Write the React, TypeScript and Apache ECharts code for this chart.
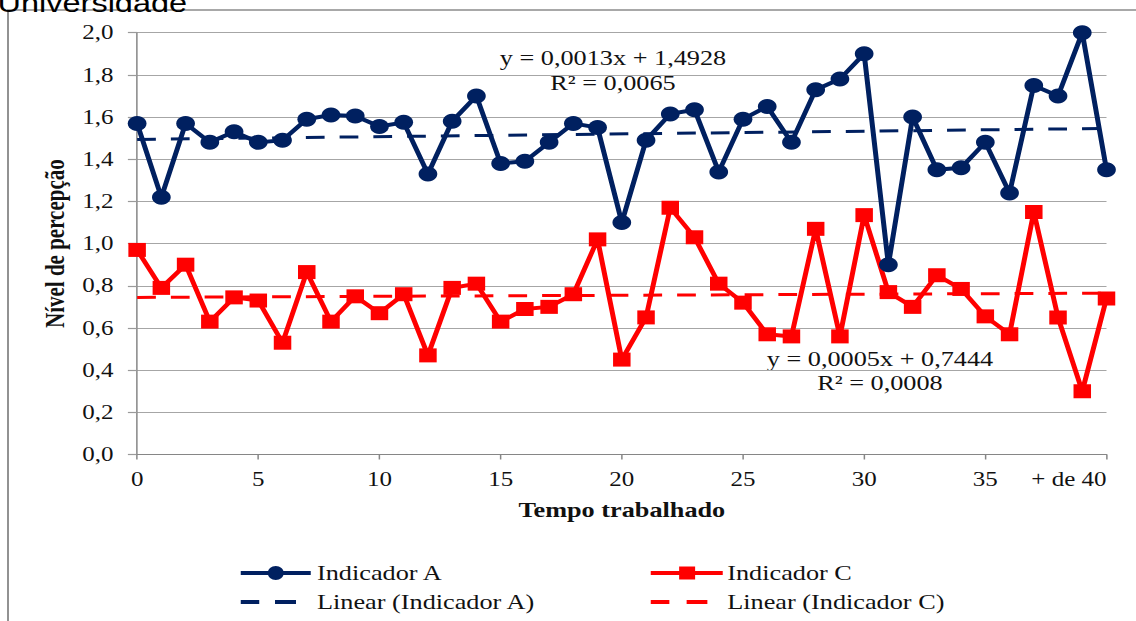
import React, { useEffect, useRef } from "react";
import * as echarts from "echarts";

// Data
const categories = [
  "0", "1", "2", "3", "4", "5", "6", "7", "8", "9",
  "10", "11", "12", "13", "14", "15", "16", "17", "18", "19",
  "20", "21", "22", "23", "24", "25", "26", "27", "28", "29",
  "30", "31", "32", "33", "34", "35", "36", "37", "38", "39", "+ de 40",
];
const indicadorA = [
  1.57, 1.22, 1.57, 1.48, 1.53, 1.48, 1.49, 1.59, 1.61, 1.605,
  1.555, 1.575, 1.33, 1.58, 1.7, 1.38, 1.39, 1.48, 1.57, 1.55,
  1.1, 1.49, 1.615, 1.635, 1.34, 1.59, 1.65, 1.48, 1.73, 1.78,
  1.9, 0.9, 1.6, 1.35, 1.36, 1.48, 1.24, 1.75, 1.7, 2.0, 1.35,
];
const indicadorC = [
  0.97, 0.79, 0.9, 0.63, 0.745, 0.73, 0.53, 0.865, 0.63, 0.75,
  0.67, 0.76, 0.47, 0.79, 0.81, 0.63, 0.69, 0.7, 0.76, 1.02,
  0.45, 0.65, 1.17, 1.03, 0.81, 0.72, 0.57, 0.56, 1.07, 0.56,
  1.135, 0.77, 0.7, 0.85, 0.785, 0.655, 0.57, 1.15, 0.65, 0.3, 0.74,
];
// Linear trend end values (first and last category)
const trendA = [1.494, 1.546];
const trendC = [0.745, 0.765];
const yTickLabels = ["0,0", "0,2", "0,4", "0,6", "0,8", "1,0", "1,2", "1,4", "1,6", "1,8", "2,0"];
const seriesNames = ["Indicador A", "Indicador C", "Linear (Indicador A)", "Linear (Indicador C)"];
const equationA = ["y = 0,0013x + 1,4928", "R² = 0,0065"];
const equationC = ["y = 0,0005x + 0,7444", "R² = 0,0008"];

const S = 1.25; // horizontal stretch of the original picture
const W = 1136 / S;
const H = 621;
const BLUE = "#002060";
const RED = "#ff0000";
const SERIF = "'Liberation Serif', 'Times New Roman', serif";
const TXT = "#111111";

function txt(x: number, y: number, text: string, size: number, align = "left", extra: any = {}) {
  return {
    type: "text",
    x,
    y,
    silent: true,
    style: {
      text,
      fill: TXT,
      fontFamily: SERIF,
      fontSize: size,
      align,
      verticalAlign: "middle",
      textAlign: align,
      textVerticalAlign: "middle",
      ...extra,
    },
  };
}

export default function App() {
  const ref = useRef<HTMLDivElement>(null);
  useEffect(() => {
    if (!ref.current) return;
    const chart = echarts.init(ref.current, null, { renderer: "svg" });
    const last = categories.length - 1;
    const option: any = {
      animation: false,
      backgroundColor: "#ffffff",
      grid: { left: 109.7, right: W - 885.0, top: 32.7, bottom: H - 454.5, containLabel: false },
      xAxis: {
        type: "category",
        data: categories,
        boundaryGap: false,
        name: "Tempo trabalhado",
        nameLocation: "middle",
        nameGap: 45,
        nameTextStyle: { fontFamily: SERIF, fontSize: 21, fontWeight: "bold", color: TXT },
        axisLine: { show: true, lineStyle: { color: "#868686", width: 1.2 } },
        axisTick: { show: true, interval: 4, length: 5, lineStyle: { color: "#868686", width: 1.2 } },
        axisLabel: {
          interval: 4,
          margin: 15,
          fontFamily: SERIF,
          fontSize: 20,
          color: TXT,
          alignMaxLabel: "right",
        },
        splitLine: { show: false },
      },
      yAxis: {
        type: "value",
        min: 0,
        max: 2,
        interval: 0.2,
        name: "Nível de percepção",
        nameLocation: "middle",
        nameGap: 53,
        nameTextStyle: { fontFamily: SERIF, fontSize: 21, fontWeight: "bold", color: TXT },
        axisLine: { show: true, lineStyle: { color: "#868686", width: 1.2 } },
        axisTick: { show: true, length: 7.4, lineStyle: { color: "#9a9a9a", width: 1.2 } },
        axisLabel: {
          margin: 19,
          fontFamily: SERIF,
          fontSize: 20,
          color: TXT,
          formatter: (v: number) => yTickLabels[Math.round(v / 0.2)],
        },
        splitLine: { show: true, lineStyle: { color: "#a6a6a6", width: 1.2 } },
      },
      series: [
        {
          name: seriesNames[0],
          type: "line",
          data: indicadorA,
          symbol: "circle",
          symbolSize: 15,
          showAllSymbol: true,
          lineStyle: { color: BLUE, width: 4 },
          itemStyle: { color: BLUE },
          z: 2,
        },
        {
          name: seriesNames[1],
          type: "line",
          data: indicadorC,
          symbol: "rect",
          symbolSize: 14,
          showAllSymbol: true,
          lineStyle: { color: RED, width: 4 },
          itemStyle: { color: RED },
          z: 2,
        },
        {
          name: seriesNames[2],
          type: "line",
          data: [[categories[0], trendA[0]], [categories[last], trendA[1]]],
          symbol: "none",
          lineStyle: { color: BLUE, width: 3, type: [15, 12] },
          itemStyle: { color: BLUE },
          z: 3,
        },
        {
          name: seriesNames[3],
          type: "line",
          data: [[categories[0], trendC[0]], [categories[last], trendC[1]]],
          symbol: "none",
          lineStyle: { color: RED, width: 3, type: [15, 12] },
          itemStyle: { color: RED },
          z: 3,
        },
      ],
      graphic: [
        {
          type: "rect",
          silent: true,
          z: -1,
          shape: { x: 6.4, y: 10, width: 1200, height: 900 },
          style: { fill: "none", stroke: "#8c8c8c", lineWidth: 1.5 },
        },
        txt(-2, 3, "Universidade", 26, "left", { fontFamily: "'Liberation Sans', Arial, sans-serif", fill: "#000" }),
        txt(490.4, 58, equationA[0], 21, "center"),
        txt(490.4, 83, equationA[1], 21, "center"),
        txt(704, 359, equationC[0], 21, "center"),
        txt(704, 383, equationC[1], 21, "center"),
        // legend column 1
        { type: "line", silent: true, shape: { x1: 192.6, y1: 573, x2: 248.6, y2: 573 }, style: { stroke: BLUE, lineWidth: 4 } },
        { type: "ellipse", silent: true, shape: { cx: 220.6, cy: 573, rx: 6.4, ry: 7 }, style: { fill: BLUE } },
        txt(253.6, 573, seriesNames[0], 21),
        { type: "line", silent: true, shape: { x1: 192.6, y1: 602, x2: 207.4, y2: 602 }, style: { stroke: BLUE, lineWidth: 4 } },
        { type: "line", silent: true, shape: { x1: 220, y1: 602, x2: 236.8, y2: 602 }, style: { stroke: BLUE, lineWidth: 4 } },
        txt(253.6, 602, seriesNames[2], 21),
        // legend column 2
        { type: "line", silent: true, shape: { x1: 520.6, y1: 573, x2: 578.2, y2: 573 }, style: { stroke: RED, lineWidth: 4 } },
        { type: "rect", silent: true, shape: { x: 543.3, y: 566.5, width: 12.8, height: 13 }, style: { fill: RED } },
        txt(581.8, 573, seriesNames[1], 21),
        { type: "line", silent: true, shape: { x1: 520.6, y1: 602, x2: 535.5, y2: 602 }, style: { stroke: RED, lineWidth: 4 } },
        { type: "line", silent: true, shape: { x1: 549.3, y1: 602, x2: 565.9, y2: 602 }, style: { stroke: RED, lineWidth: 4 } },
        txt(581.8, 602, seriesNames[3], 21),
      ],
    };
    chart.setOption(option);
    return () => chart.dispose();
  }, []);
  return (
    <div
      ref={ref}
      style={{
        position: "absolute",
        left: 0,
        top: 0,
        width: W,
        height: H,
        transform: `scaleX(${S})`,
        transformOrigin: "0 0",
      }}
    />
  );
}
